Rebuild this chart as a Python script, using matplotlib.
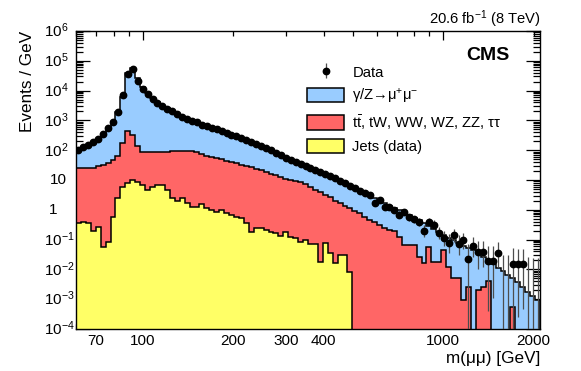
import numpy as np
import matplotlib
matplotlib.use('Agg')
import matplotlib.pyplot as plt
from matplotlib.patches import Patch
from matplotlib.ticker import FixedLocator, FuncFormatter, LogLocator, NullFormatter

plt.rcParams['font.family'] = ['Liberation Sans', 'DejaVu Sans']
plt.rcParams['mathtext.fontset'] = 'custom'
plt.rcParams['mathtext.rm'] = 'Liberation Sans'
plt.rcParams['mathtext.it'] = 'Liberation Sans:italic'
plt.rcParams['mathtext.bf'] = 'Liberation Sans:bold'

# Mass binning (GeV), log-uniform
mass_edges = np.geomspace(60, 2100, 95)

# log10(Events / GeV), None = empty bin
data_log = [
    2.01, 2.10, 2.18, 2.26, 2.36, 2.55, 2.73, 2.95, 3.29, 3.84,
    4.55, 4.715, 4.332, 4.044, 3.876, 3.728, 3.594, 3.483, 3.393, 3.305,
    3.215, 3.124, 3.047, 2.980, 2.936, 2.862, 2.809, 2.752, 2.695, 2.638,
    2.584, 2.523, 2.466, 2.399, 2.332, 2.265, 2.198, 2.131, 2.067, 1.990,
    1.906, 1.829, 1.752, 1.685, 1.617, 1.547, 1.470, 1.409, 1.346, 1.275,
    1.201, 1.134, 1.057, 0.956, 0.883, 0.799, 0.715, 0.621, 0.564, 0.497,
    0.218, 0.329, 0.104, 0.094, -0.007, -0.158, -0.074, -0.258, -0.325, -0.399,
    -0.695, -0.393, -0.500, -0.768, -0.940, -1.104, -0.836, -1.148, -1.030, -1.661,
    -1.205, -1.406, -1.406, -1.718, -1.718, -1.440, None, None, -1.819, -1.819,
    -1.829, None, None, None,
]

# top of the full stack (gamma/Z -> mumu on top)
dy_top_log = [
    1.98, 2.07, 2.15, 2.23, 2.33, 2.52, 2.70, 2.93, 3.27, 3.80,
    4.591, 4.768, 4.413, 4.131, 3.93, 3.76, 3.61, 3.49, 3.40, 3.31,
    3.22, 3.13, 3.05, 2.98, 2.93, 2.862, 2.809, 2.752, 2.695, 2.638,
    2.584, 2.523, 2.466, 2.399, 2.332, 2.265, 2.198, 2.131, 2.067, 1.990,
    1.906, 1.829, 1.752, 1.685, 1.617, 1.547, 1.470, 1.409, 1.346, 1.275,
    1.201, 1.134, 1.057, 0.956, 0.883, 0.799, 0.715, 0.621, 0.564, 0.497,
    0.396, 0.329, 0.228, 0.144, 0.060, -0.023, -0.107, -0.191, -0.275, -0.359,
    -0.443, -0.544, -0.644, -0.745, -0.829, -0.930, -1.013, -1.114, -1.198, -1.282,
    -1.349, -1.450, -1.584, -1.685, -1.819, -1.953, -2.070, -2.188, -2.305, -2.423,
    -2.574, -2.742, -2.893, -3.027,
]

# top of ttbar, tW, WW, WZ, ZZ, tautau (stacked on jets)
ewk_top_log = [
    1.386, 1.386, 1.419, 1.403, 1.470, 1.520, 1.587, 1.671, 1.805, 2.232,
    2.661, 2.510, 2.141, 1.956, 1.950, 1.956, 1.956, 1.953, 1.956, 1.960,
    1.966, 1.973, 1.980, 1.977, 1.923, 1.872, 1.815, 1.772, 1.728, 1.688,
    1.644, 1.604, 1.560, 1.520, 1.480, 1.436, 1.379, 1.326, 1.268, 1.218,
    1.168, 1.111, 1.050, 1.000, 0.966, 0.933, 0.849, 0.765, 0.681, 0.607,
    0.513, 0.413, 0.312, 0.218, 0.138, 0.054, -0.030, -0.114, -0.225, -0.326,
    -0.409, -0.510, -0.594, -0.678, -0.701, -0.913, -1.181, -1.181, -1.181, -1.584,
    -1.785, -1.238, -1.742, -1.742, -1.349, -1.909, -2.299, -2.299, -3.027, -2.601,
    None, -2.691, -2.591, -2.389, None, None, None, None, -3.252, None,
    None, None, None, None,
]

# jets (from data)
jets_log = [
    -0.453, -0.426, -0.433, -0.701, -0.567, -1.238, -1.071, -0.232, 0.386, 0.775,
    0.909, 1.000, 0.943, 0.832, 0.664, 0.755, 0.832, 0.832, 0.664, 0.386,
    0.305, 0.386, 0.218, 0.084, 0.104, 0.200, 0.060, -0.007, -0.074, -0.007,
    -0.107, -0.174, -0.232, -0.275, -0.453, -0.735, -0.621, -0.621, -0.678, -0.735,
    -0.789, -0.879, -0.735, -0.903, -0.956, -1.071, -1.013, -1.148, -1.148, -1.742,
    -1.124, -1.460, -1.795, -1.517, -1.517, -2.077,
] + [None] * 38


def to_density(logs):
    arr = np.array(logs, dtype=float)
    return np.where(np.isnan(arr), 0.0, 10 ** arr)


data = to_density(data_log)
dy_top = to_density(dy_top_log)
ewk_top = to_density(ewk_top_log)
jets = to_density(jets_log)

c_dy, c_ewk, c_jets = '#99ccff', '#ff6666', '#ffff66'
floor = 1e-6

fig = plt.figure(figsize=(5.81, 3.71), dpi=100)
ax = fig.add_axes([76 / 581, 42 / 371, 464 / 581, 298 / 371])

# stacked histograms
for vals, col in [(dy_top, c_dy), (ewk_top, c_ewk), (jets, c_jets)]:
    ax.stairs(np.where(vals > 0, vals, floor), mass_edges, baseline=floor, fill=True,
              facecolor=col, edgecolor='black', lw=1.1, zorder=2)

# data points with Poisson-like errors
centers = np.sqrt(mass_edges[:-1] * mass_edges[1:])
widths = np.diff(mass_edges)
counts = np.round(data * widths)
has = counts > 0
err_lo = np.minimum(np.sqrt(counts) / widths, data - floor)
err_hi = (np.sqrt(counts + 0.75) + 1) / widths
eb = ax.errorbar(centers[has], data[has], yerr=[err_lo[has], err_hi[has]], fmt='o',
                 color='black', ecolor='0.3', ms=4.6, elinewidth=0.9, capsize=0, zorder=4)
empty = ~has
ax.vlines(centers[empty], floor, err_hi[empty], color='0.3', lw=0.9, zorder=4)

ax.set_xscale('log')
ax.set_yscale('log')
ax.set_xlim(60, 2100)
ax.set_ylim(1e-4, 1e6)

# ticks
ax.xaxis.set_major_locator(FixedLocator([100, 1000]))
ax.xaxis.set_minor_locator(FixedLocator([60, 70, 80, 90, 200, 300, 400, 500, 600, 700,
                                         800, 900, 2000]))
ax.xaxis.set_major_formatter(FuncFormatter(lambda v, p: '%d' % v))
ax.xaxis.set_minor_formatter(FuncFormatter(
    lambda v, p: '%d' % v if int(round(v)) in (70, 200, 300, 400, 2000) else ''))
ax.yaxis.set_major_locator(LogLocator(base=10, numticks=20))
ax.yaxis.set_minor_locator(LogLocator(base=10, subs=np.arange(2, 10), numticks=200))
ax.yaxis.set_major_formatter(NullFormatter())
ax.yaxis.set_minor_formatter(NullFormatter())
ax.tick_params(which='both', direction='in', top=True, right=True, width=0.9)
ax.tick_params(axis='x', which='major', length=6.5, labelsize=11, pad=3.6)
ax.tick_params(axis='x', which='minor', length=3.6, labelsize=11, pad=3.6)
ax.tick_params(axis='y', which='major', length=10)
ax.tick_params(axis='y', which='minor', length=5)
for sp in ax.spines.values():
    sp.set_linewidth(1.0)

# y tick labels in ROOT style
ytr = ax.get_yaxis_transform()
for n in range(-4, 7):
    if n == 0:
        ax.text(-0.041, 1.0, '1', transform=ytr, ha='right', va='center', fontsize=11)
    elif n == 1:
        ax.text(-0.0194, 10.0, '10', transform=ytr, ha='right', va='center', fontsize=11)
    else:
        ax.text(-0.069, 10.0 ** n, '$10^{%d}$' % n, transform=ytr, ha='left',
                va='center', fontsize=11)

ax.set_ylabel('Events / GeV', loc='top', fontsize=12.3)
ax.yaxis.set_label_coords(-0.088, 1.0)
ax.set_xlabel('m(μμ) [GeV]', loc='right', fontsize=12.3)
ax.xaxis.set_label_coords(1.0, -0.074)

ax.text(0.935, 0.919, 'CMS', transform=ax.transAxes, ha='right', va='center',
        fontsize=14, fontweight='bold')
fig.text(541 / 581, 1 - 24 / 371, '20.6 fb$^{-1}$ (8 TeV)', ha='right', va='baseline',
         fontsize=10.6)

handles = [eb,
           Patch(facecolor=c_dy, edgecolor='black', lw=1.1),
           Patch(facecolor=c_ewk, edgecolor='black', lw=1.1),
           Patch(facecolor=c_jets, edgecolor='black', lw=1.1)]
labels = ['Data', 'γ/Z→μ$^{+}$μ$^{-}$', r't$\bar{\mathrm{t}}$, tW, WW, WZ, ZZ, ττ',
          'Jets (data)']
leg = ax.legend(handles, labels, loc='upper left', bbox_to_anchor=(307 / 581, 1 - 64.5 / 371),
                bbox_transform=fig.transFigure, frameon=False, fontsize=10.6,
                borderpad=0, borderaxespad=0, handlelength=2.53, handleheight=1.1,
                handletextpad=0.55, labelspacing=0.48)
leg.set_zorder(5)

fig.savefig('out.png', dpi=100)
